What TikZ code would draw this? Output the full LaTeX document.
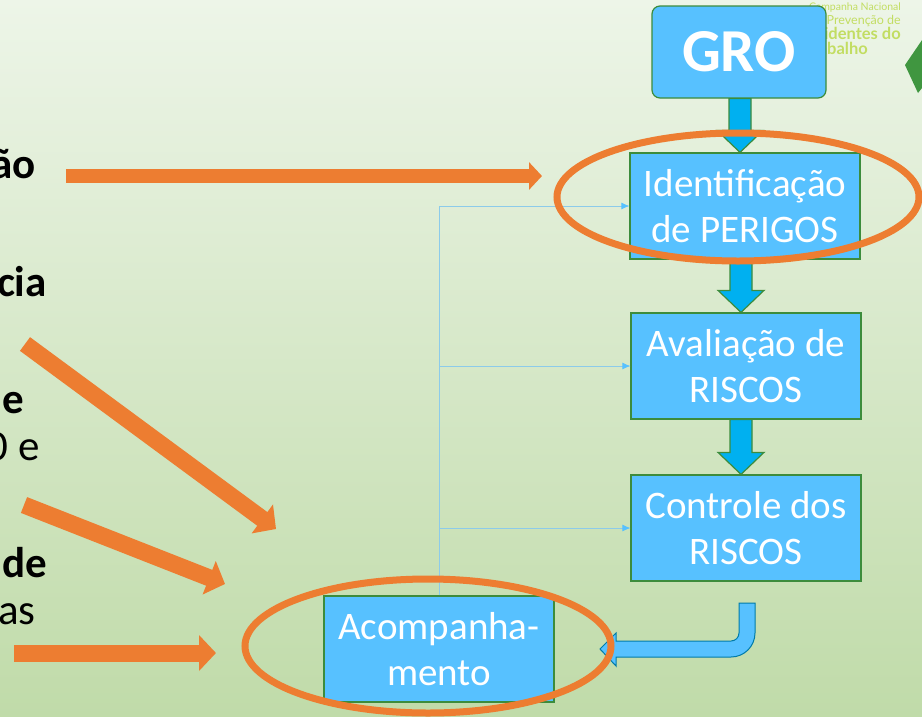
\documentclass[tikz,border=0pt]{standalone}
\usepackage{fontspec}
\setmainfont{Carlito}
\newfontfamily\logofont{Lato}
\usetikzlibrary{arrows.meta,calc}
\definecolor{boxblue}{HTML}{57C1FF}
\definecolor{arrowblue}{HTML}{00B0F0}
\definecolor{boxgreen}{HTML}{3C8C3C}
\definecolor{ringorange}{HTML}{ED7D31}
\definecolor{thinblue}{HTML}{8CCBEA}
\definecolor{logogreen}{HTML}{C2DD62}
\definecolor{backtop}{HTML}{EDF5E8}
\definecolor{backbottom}{HTML}{C0DBA9}
\tikzset{
  stagebox/.style={draw=boxgreen, fill=boxblue, line width=1.2pt, text=white, minimum width=230pt, minimum height=106pt, align=center, font=\fontsize{39}{46}\selectfont, inner sep=0pt},
  flowarrow/.style={draw=boxgreen, fill=arrowblue, line width=1.2pt},
  feedline/.style={draw=thinblue, line width=0.7pt},
  feedtip/.style={feedline, -{Latex[length=8pt,width=7pt,color=boxblue]}},
  ringline/.style={draw=ringorange, line width=7pt},
  pointer/.style={draw=ringorange, line width=17pt, -{Triangle[length=17pt,width=35pt,fill=ringorange]}},
  pointerthin/.style={draw=ringorange, line width=14pt, -{Triangle[length=13pt,width=27pt,fill=ringorange]}},
  sidetext/.style={anchor=base east, font=\fontsize{43}{48}\selectfont, inner sep=0pt, text=black},
  sidebold/.style={sidetext, font=\bfseries\fontsize{43}{48}\selectfont},
  logotext/.style={anchor=base east, text=logogreen, inner sep=0pt},
}
\newcommand{\flowdown}[3]{%
  \coordinate (top) at (#3,0 |- #1.south);
  \coordinate (tip) at (#3,0 |- #2.north);
  \draw[flowarrow] ($(top)+(-11,0)$) -- ($(tip)+(-11,-22)$) -- ($(tip)+(-23,-22)$)
    -- (tip) -- ($(tip)+(23,-22)$) -- ($(tip)+(11,-22)$) -- ($(top)+(11,0)$) -- cycle;}
\begin{document}
\begin{tikzpicture}[x=1pt, y=-1pt]
  \useasboundingbox (0,0) rectangle (922,716);
  \shade[top color=backtop, bottom color=backbottom] (0,0) rectangle (922,716);
  % logo
  \node[logotext, font=\logofont\fontsize{10.5}{12}\selectfont] (logoa) at (901,10) {Campanha Nacional};
  \node[logotext, font=\logofont\fontsize{12.5}{14}\selectfont] (logob) at (901,24) {de Prevenção de};
  \node[logotext, font=\logofont\bfseries\fontsize{16.5}{18}\selectfont] (logoc) at (901,39) {Acidentes do};
  \node[logotext, font=\logofont\bfseries\fontsize{16.5}{18}\selectfont] (logod) at (868,54) {Trabalho};
  \fill[green!45!black!75!white] (905,65) -- (920,43) -- (922,40) -- (922,88) -- (918,93) -- cycle;
  % left text
  \node[sidebold] (txta) at (36,178) {ão};
  \node[sidebold] (txtb) at (47,296) {cia};
  \node[sidebold] (txtc) at (24,413) {e};
  \node[sidetext] (txtd) at (40,460) {0 e};
  \node[sidebold] (txte) at (47,577) {de};
  \node[sidetext] (txtf) at (36,624) {as};
  % boxes
  \node[stagebox, rounded corners=8pt, minimum width=174pt, minimum height=92pt, font=\bfseries\fontsize{61}{66}\selectfont] (gro) at (739,52) {GRO};
  \node[stagebox] (perigos) at (745,206) {Identificação\\de PERIGOS};
  \node[stagebox] (avaliacao) at (746,366) {Avaliação de\\RISCOS};
  \node[stagebox] (controle) at (746,528) {Controle dos\\RISCOS};
  \node[stagebox] (acomp) at (439,649) {Acompanha-\\mento};
  \flowdown{gro}{perigos}{740}
  \flowdown{perigos}{avaliacao}{741}
  \flowdown{avaliacao}{controle}{741}
  % feedback lines
  \draw[feedtip] (acomp.north) -- (acomp.north |- perigos.west) -- (perigos.west);
  \draw[feedtip] (acomp.north |- avaliacao.west) -- (avaliacao.west);
  \draw[feedtip] (acomp.north |- controle.west) -- (controle.west);
  % return arrow
  \draw[draw=arrowblue!70!black, fill=boxblue, line width=1pt] (739,603) -- (755,603) -- (755,633) arc[start angle=0, end angle=90, radius=24] -- (616,657) -- (616,666) -- (600,649) -- (616,633) -- (616,641) -- (731,641) arc[start angle=90, end angle=0, radius=8] -- cycle;
  % rings
  \draw[ringline] (738,197) ellipse (181 and 64);
  \draw[ringline] (428,646) ellipse (183 and 67);
  % pointers
  \coordinate (pa) at (66,176);
  \coordinate (pb) at (542,176);
  \coordinate (pc) at (25,344);
  \coordinate (pd) at (276,529);
  \coordinate (pe) at (24,505);
  \coordinate (pf) at (225,584);
  \coordinate (pg) at (14,653);
  \coordinate (ph) at (216,653);
  \draw[pointerthin] (pa) -- (pb);
  \draw[pointer] (pc) -- (pd);
  \draw[pointer] (pe) -- (pf);
  \draw[pointer] (pg) -- (ph);
\end{tikzpicture}
\end{document}
